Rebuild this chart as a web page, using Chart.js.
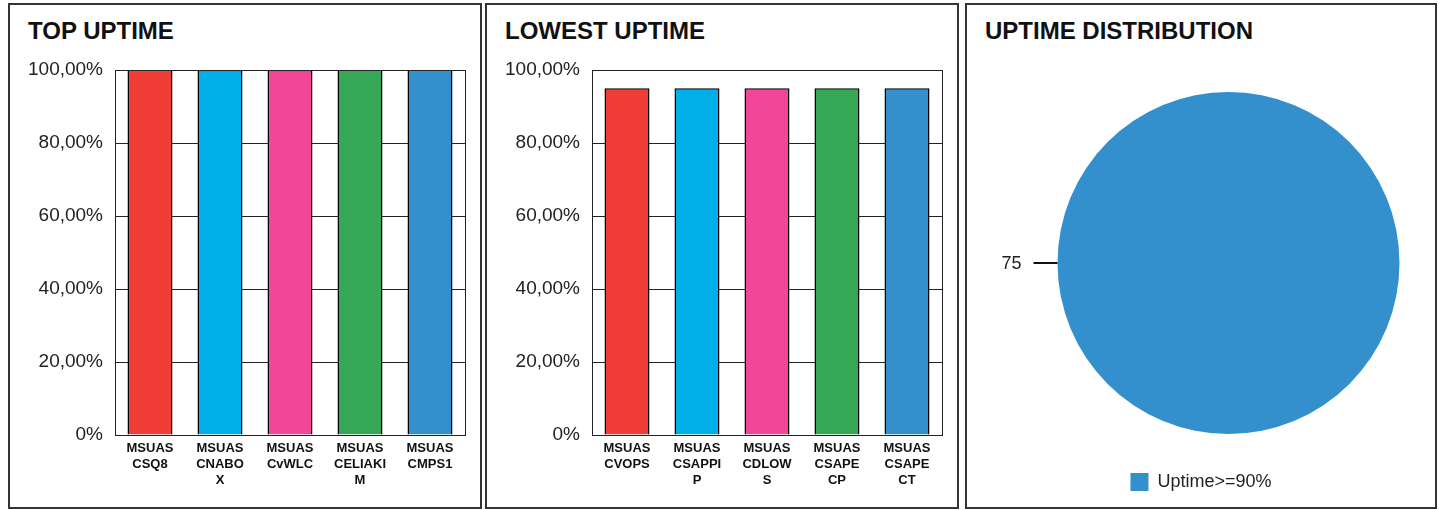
<!DOCTYPE html>
<html>
<head>
<meta charset="utf-8">
<script src="https://cdn.jsdelivr.net/npm/chart.js@4/dist/chart.umd.min.js"></script>
<style>
  html, body { margin: 0; padding: 0; background: #fff; }
  body { width: 1439px; height: 510px; position: relative; overflow: hidden; font-family: "Liberation Sans", Arial, sans-serif; }
  .panel { position: absolute; top: 3px; height: 506px; box-sizing: border-box; border: 2px solid #333; background: #fff; }
  .panel h2 { position: absolute; left: 18px; top: 12px; margin: 0; font-size: 24px; font-weight: bold; color: #111; line-height: 28px; }
  .panel canvas { position: absolute; left: 0; top: 0; }
</style>
</head>
<body>
  <div class="panel" style="left:8px;width:474px;">
    <h2>TOP UPTIME</h2>
    <canvas id="top-chart" width="470" height="502"></canvas>
  </div>
  <div class="panel" style="left:485px;width:474px;">
    <h2>LOWEST UPTIME</h2>
    <canvas id="low-chart" width="470" height="502"></canvas>
  </div>
  <div class="panel" style="left:965px;width:472px;">
    <h2>UPTIME DISTRIBUTION</h2>
    <canvas id="pie-chart" width="468" height="502"></canvas>
  </div>

<script>
// data
const topLabels = [['MSUAS', 'CSQ8'], ['MSUAS', 'CNABO', 'X'], ['MSUAS', 'CvWLC'], ['MSUAS', 'CELIAKI', 'M'], ['MSUAS', 'CMPS1']];
const topValues = [100, 100, 100, 100, 100];

const lowLabels = [['MSUAS', 'CVOPS'], ['MSUAS', 'CSAPPI', 'P'], ['MSUAS', 'CDLOW', 'S'], ['MSUAS', 'CSAPE', 'CP'], ['MSUAS', 'CSAPE', 'CT']];
const lowValues = [95, 95, 95, 95, 95];

const yTicks = [0, 20, 40, 60, 80, 100];
const yTickLabels = ['0%', '20,00%', '40,00%', '60,00%', '80,00%', '100,00%'];

const pieLabels = ['Uptime>=90%'];
const pieValues = [75];

const barColors = ['#F03D35', '#00AEE8', '#F24799', '#36A756', '#348FCD'];
const FONT = '"Liberation Sans", Arial, sans-serif';

// draws the black frame round the plot area
const framePlugin = {
  id: 'frame',
  afterDraw(chart) {
    const { ctx, chartArea: a } = chart;
    ctx.save();
    ctx.strokeStyle = '#222';
    ctx.lineWidth = 1;
    ctx.strokeRect(Math.round(a.left) + 0.5, Math.round(a.top) + 0.5, Math.round(a.right - a.left), Math.round(a.bottom - a.top));
    ctx.restore();
  }
};

function makeBarChart(id, labels, values) {
  return new Chart(document.getElementById(id), {
    type: 'bar',
    data: {
      labels,
      datasets: [{
        data: values,
        backgroundColor: barColors,
        borderColor: '#000',
        borderWidth: 1.5,
        barPercentage: 0.643,
        categoryPercentage: 1
      }]
    },
    options: {
      responsive: false,
      animation: false,
      layout: { padding: { left: 0, right: 15, top: 65, bottom: 0 } },
      plugins: { legend: { display: false }, tooltip: { enabled: false } },
      scales: {
        x: {
          grid: { display: false },
          border: { display: true, color: '#222' },
          ticks: {
            color: '#111',
            padding: -3,
            maxRotation: 0,
            autoSkip: false,
            font: { family: FONT, size: 13, weight: 'bold', lineHeight: 1.25 }
          },
          afterFit: s => { s.height = 72; }
        },
        y: {
          min: 0,
          max: 100,
          grid: { color: '#222', drawTicks: false },
          border: { display: true, color: '#222' },
          afterBuildTicks: s => { s.ticks = yTicks.map(v => ({ value: v })); },
          ticks: {
            color: '#222',
            padding: 12,
            font: { family: FONT, size: 19 },
            callback: (v, i) => yTickLabels[i]
          },
          afterFit: s => { s.width = 105; }
        }
      }
    },
    plugins: [framePlugin]
  });
}

makeBarChart('top-chart', topLabels, topValues);
makeBarChart('low-chart', lowLabels, lowValues);

// moves the pie right of the centred legend and writes the value beside it
const pieShift = {
  id: 'pieShift',
  afterLayout(chart) {
    const a = chart.chartArea;
    a.left += 55;
    a.width = a.right - a.left;
  },
  afterDatasetsDraw(chart) {
    const arc = chart.getDatasetMeta(0).data[0];
    if (!arc) return;
    const { ctx } = chart;
    const edge = arc.x - arc.outerRadius;
    ctx.save();
    ctx.strokeStyle = '#111';
    ctx.lineWidth = 2;
    ctx.beginPath();
    ctx.moveTo(edge - 24, arc.y);
    ctx.lineTo(edge, arc.y);
    ctx.stroke();
    ctx.fillStyle = '#222';
    ctx.font = '18px ' + FONT;
    ctx.textAlign = 'right';
    ctx.textBaseline = 'middle';
    ctx.fillText(String(pieValues[0]), edge - 36, arc.y + 1);
    ctx.restore();
  }
};

new Chart(document.getElementById('pie-chart'), {
  type: 'pie',
  data: {
    labels: pieLabels,
    datasets: [{
      data: pieValues,
      backgroundColor: ['#348FCD'],
      borderWidth: 0,
      radius: 171,
      clip: false
    }]
  },
  options: {
    responsive: false,
    animation: false,
    layout: { padding: { left: 5, right: 5, top: 58, bottom: 6 } },
    plugins: {
      tooltip: { enabled: false },
      legend: {
        position: 'bottom',
        labels: {
          color: '#222',
          boxWidth: 18,
          boxHeight: 18,
          padding: 10,
          font: { family: FONT, size: 18 }
        }
      }
    }
  },
  plugins: [pieShift]
});
</script>
</body>
</html>
